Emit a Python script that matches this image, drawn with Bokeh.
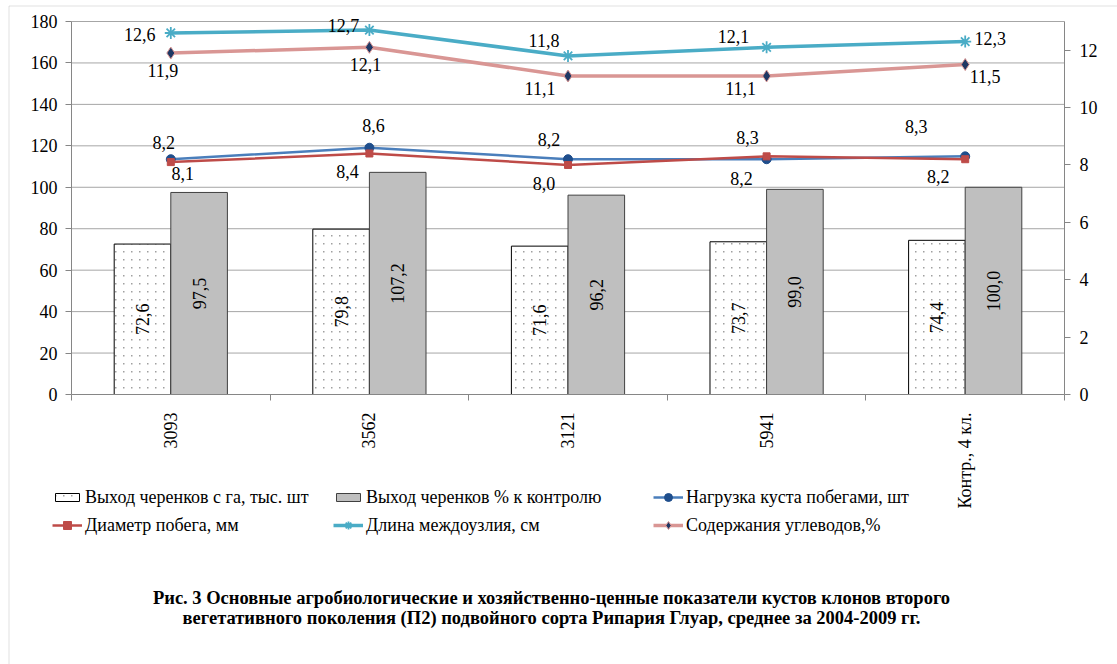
import math
from bokeh.plotting import figure
from bokeh.models import (Range1d, LinearAxis, FixedTicker, Legend, LegendItem,
                          Label, ColumnDataSource, BoxAnnotation, ImageURLTexture)
from bokeh.core.properties import value
from bokeh.embed import file_html
from bokeh.resources import INLINE

# ---------------- data ----------------
categories = ["3093", "3562", "3121", "5941", "Контр., 4 кл."]
yield_per_ha = [72.6, 79.8, 71.6, 73.7, 74.4]          # left axis
yield_pct = [97.5, 107.2, 96.2, 99.0, 100.0]           # left axis
shoot_load = [8.2, 8.6, 8.2, 8.2, 8.3]                 # right axis
shoot_diam = [8.1, 8.4, 8.0, 8.3, 8.2]                 # right axis
internode = [12.6, 12.7, 11.8, 12.1, 12.3]             # right axis
carbs = [11.9, 12.1, 11.1, 11.1, 11.5]                 # right axis
left_ticks = [0, 20, 40, 60, 80, 100, 120, 140, 160, 180]
right_ticks = [0, 2, 4, 6, 8, 10, 12]
LEFT_MAX = 180
RIGHT_MAX = 13

names = ["Выход черенков с га, тыс. шт", "Выход черенков % к контролю",
         "Нагрузка куста побегами, шт", "Диаметр побега, мм",
         "Длина междоузлия, см", "Содержания углеводов,%"]
caption1 = "Рис. 3 Основные агробиологические и хозяйственно-ценные показатели кустов клонов второго"
caption2 = "вегетативного поколения (П2) подвойного сорта Рипария Глуар, среднее за 2004-2009 гг."

# ---------------- styles ----------------
FONT = "Liberation Serif"
FS = "18px"
C_CYAN = "#4aacc6"
C_PINK = "#d99694"
C_BLUE = "#4a7ebb"
C_BLUE_M = "#1f4e8c"
C_RED = "#be4b48"
C_NAVY = "#1f3864"
GRID = "#a6a6a6"
AXIS = "#868686"
BAR_W = 0.285
DOT_TILE = ("data:image/svg+xml;utf8,<svg xmlns='http://www.w3.org/2000/svg' width='8' height='8'>"
            "<rect x='3' y='3' width='1.5' height='1.5' fill='%23a0a0a0'/></svg>")

W, H = 1117, 664
FL, FT, FR, FB = 71, 21, 1064, 394          # plot-area box on the canvas (pixels)

# label nudges in screen pixels (style only)
TOP_DX = [-7, 4, -19, -19, -49]
TOP_DY = [-17, -22, -20, -19, -30]
BOT_DX = [12, -22, -24, -25, -27]
BOT_DY = [11, 18, 19, 19, 17]
CY_DX = [-31, -26, -24, -33, 25]
CY_DY = [2, -5, -15, -11, -3]
PK_DX = [-8, -4, -28, -26, 20]
PK_DY = [17, 17, 12, 12, 12]

LEG_H = 21
col_x = [52, 333, 653]          # canvas x of legend glyph left edges
row_c = [497, 525]              # canvas y of legend row centres
cap_y = [597, 617]              # canvas y of caption lines
CAP_X = 551


def fmt(v):
    return f"{v:.1f}".replace(".", ",")


n = len(categories)
xc = [i + 0.5 for i in range(n)]

# the frame covers the whole canvas; axes are pinned inside it
px_x = (FR - FL) / n
px_l = (FB - FT) / LEFT_MAX
px_r = (FB - FT) / RIGHT_MAX
x_range = Range1d(-FL / px_x, n + (W - FR) / px_x)
y_range = Range1d(-(H - FB) / px_l, LEFT_MAX + FT / px_l)

p = figure(width=W, height=H, x_range=x_range, y_range=y_range,
           output_backend="svg", toolbar_location=None, min_border=0,
           min_border_left=0, min_border_right=0, min_border_top=0, min_border_bottom=0)
p.extra_y_ranges = {"right": Range1d(-(H - FB) / px_r, RIGHT_MAX + FT / px_r)}
p.outline_line_color = None
p.background_fill_color = "white"
p.border_fill_color = "white"
p.xgrid.visible = False
p.ygrid.visible = False

# horizontal gridlines across the plot area only
p.segment(x0=0, x1=n, y0=left_ticks[1:], y1=left_ticks[1:], line_color=GRID, line_width=1)

# left axis
ya = p.yaxis[0]
ya.fixed_location = 0
ya.bounds = (0, LEFT_MAX)
ya.ticker = FixedTicker(ticks=left_ticks)
ya.axis_line_color = AXIS
ya.major_tick_line_color = AXIS
ya.major_tick_out = 6
ya.major_tick_in = 0
ya.minor_tick_line_color = None
ya.major_label_standoff = 8
ya.major_label_text_font = FONT
ya.major_label_text_font_size = FS
ya.major_label_text_color = "black"

# x axis
xa = p.xaxis[0]
xa.fixed_location = 0
xa.bounds = (0, n)
xa.ticker = FixedTicker(ticks=xc, minor_ticks=list(range(n + 1)))
xa.major_label_overrides = {x: c for x, c in zip(xc, categories)}
xa.major_label_orientation = math.pi / 2
xa.axis_line_color = AXIS
xa.major_tick_line_color = None
xa.major_tick_out = 0
xa.minor_tick_line_color = AXIS
xa.minor_tick_out = 6
xa.minor_tick_in = 0
xa.major_label_standoff = 12
xa.major_label_text_font = FONT
xa.major_label_text_font_size = FS
xa.major_label_text_color = "black"

# right axis
ra = LinearAxis(y_range_name="right", ticker=FixedTicker(ticks=right_ticks))
ra.fixed_location = n
ra.bounds = (0, RIGHT_MAX)
ra.axis_line_color = AXIS
ra.major_tick_line_color = AXIS
ra.major_tick_out = 6
ra.major_tick_in = 0
ra.minor_tick_line_color = None
ra.major_label_standoff = 9
ra.major_label_text_font = FONT
ra.major_label_text_font_size = FS
ra.major_label_text_color = "black"
p.add_layout(ra, "right")

# bars
src = ColumnDataSource(dict(
    x1=[x - BAR_W / 2 for x in xc], x2=[x + BAR_W / 2 for x in xc],
    v1=yield_per_ha, v2=yield_pct,
    m1=[v / 2 for v in yield_per_ha], m2=[v / 2 for v in yield_pct],
    t1=[fmt(v) for v in yield_per_ha], t2=[fmt(v) for v in yield_pct]))
b1 = p.vbar(x="x1", top="v1", bottom=0, width=BAR_W, source=src,
            fill_color="white", line_color="black", line_width=1,
            hatch_pattern=value("dots8"),
            hatch_extra={"dots8": ImageURLTexture(url=DOT_TILE, repetition="repeat")})
b2 = p.vbar(x="x2", top="v2", bottom=0, width=BAR_W, source=src,
            fill_color="#bfbfbf", line_color="#404040", line_width=1)
for xcol, mcol, tcol in (("x1", "m1", "t1"), ("x2", "m2", "t2")):
    p.text(x=xcol, y=mcol, text=tcol, source=src, angle=math.pi / 2,
           text_align="center", text_baseline="middle",
           text_font=value(FONT), text_font_size=FS, text_color="black")

# lines (right axis)
l_cy = p.line(xc, internode, y_range_name="right", line_color=C_CYAN, line_width=3.5)
m_cy = p.scatter(xc, internode, y_range_name="right", marker="asterisk", size=12,
                 line_color=C_CYAN, line_width=1.8)
l_pk = p.line(xc, carbs, y_range_name="right", line_color=C_PINK, line_width=3.5)
m_pk = p.scatter(xc, carbs, y_range_name="right", marker="diamond", size=12,
                 fill_color=C_NAVY, line_color=C_PINK, line_width=1)
l_bl = p.line(xc, shoot_load, y_range_name="right", line_color=C_BLUE, line_width=2.5)
m_bl = p.scatter(xc, shoot_load, y_range_name="right", marker="circle", size=9,
                 fill_color=C_BLUE_M, line_color=C_BLUE_M)
l_rd = p.line(xc, shoot_diam, y_range_name="right", line_color=C_RED, line_width=2.5)
m_rd = p.scatter(xc, shoot_diam, y_range_name="right", marker="square", size=7,
                 fill_color=C_RED, line_color=C_RED)

# data labels for lines
top_v = [max(a, b) for a, b in zip(shoot_load, shoot_diam)]
bot_v = [min(a, b) for a, b in zip(shoot_load, shoot_diam)]
for vals, dx, dy in ((internode, CY_DX, CY_DY), (carbs, PK_DX, PK_DY),
                     (top_v, TOP_DX, TOP_DY), (bot_v, BOT_DX, BOT_DY)):
    s = ColumnDataSource(dict(x=xc, y=vals, t=[fmt(v) for v in vals], dx=dx, dy=dy))
    p.text(x="x", y="y", text="t", x_offset="dx", y_offset="dy", source=s,
           y_range_name="right", text_align="center", text_baseline="middle",
           text_font=value(FONT), text_font_size=FS, text_color="black")

# legends: six single-item legends in a 3x2 grid
items = [(names[0], [b1]), (names[1], [b2]), (names[2], [l_bl, m_bl]),
         (names[3], [l_rd, m_rd]), (names[4], [l_cy, m_cy]), (names[5], [l_pk, m_pk])]
for k, (label, rends) in enumerate(items):
    gh = 10 if k < 2 else 20
    lg = Legend(items=[LegendItem(label=label, renderers=rends)],
                location=(col_x[k % 3], H - (row_c[k // 3] + LEG_H / 2)),
                padding=0, margin=0, spacing=0, border_line_color=None,
                background_fill_alpha=0, glyph_width=30, glyph_height=gh,
                label_standoff=3, label_height=18,
                label_text_font=FONT, label_text_font_size=FS, label_text_color="black")
    p.add_layout(lg, "center")

# caption
for txt, yy in zip((caption1, caption2), cap_y):
    p.add_layout(Label(x=CAP_X, y=H - yy, x_units="screen", y_units="screen",
                       text=txt, text_align="center", text_baseline="middle",
                       text_font=FONT, text_font_style="bold", text_font_size="18.5px",
                       text_color="black"))

# outer chart border (left and top edges visible)
p.add_layout(BoxAnnotation(left=8.5, right=W + 20, top=H - 5.5, bottom=-20,
                           left_units="screen", right_units="screen",
                           top_units="screen", bottom_units="screen",
                           fill_alpha=0, line_color="#9a9a9a", line_width=1))

open("out.html", "w").write(file_html(p, INLINE))
